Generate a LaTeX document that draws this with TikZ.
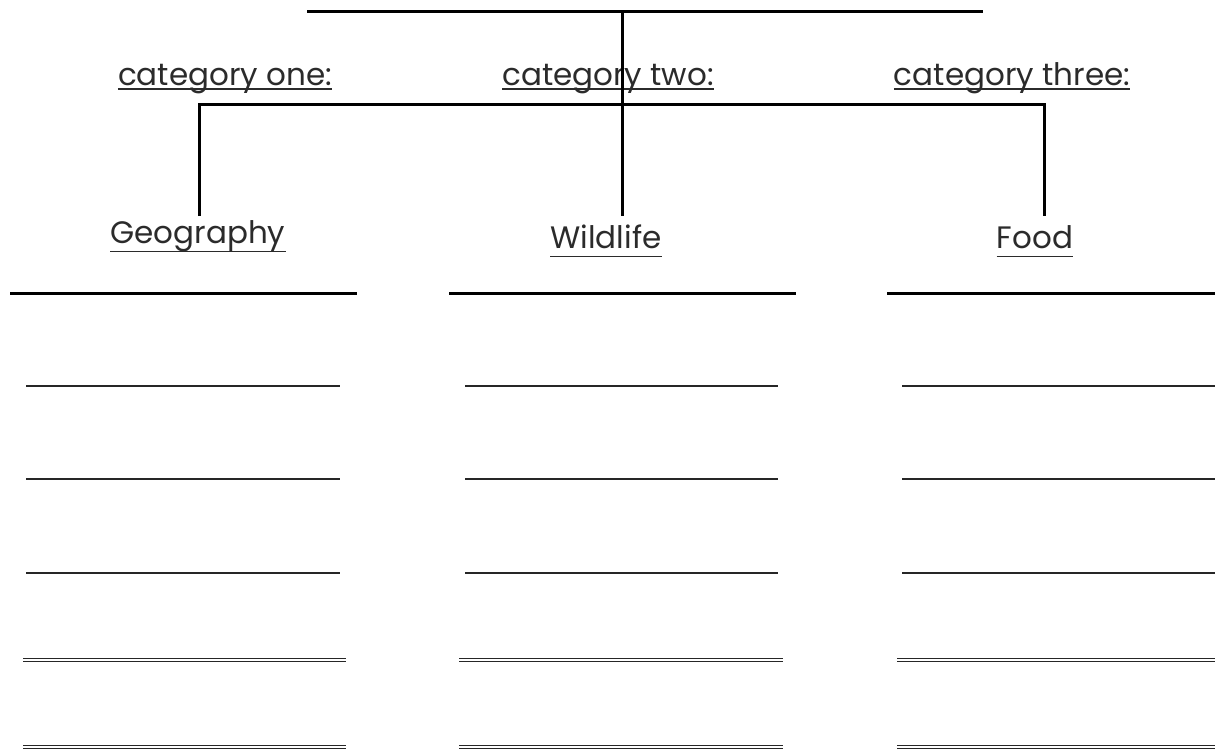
\documentclass[tikz,border=0pt]{standalone}
\usepackage{fontspec}
\setmainfont{Poppins}
\definecolor{txt}{HTML}{2B2B2B}
\begin{document}
\begin{tikzpicture}[x=1pt,y=-1pt,
  conn/.style={line width=3pt, black},
  thickblank/.style={line width=3pt, black},
  blank/.style={line width=1.8pt, black!85},
  dblank/.style={line width=1pt, black!85},
  lbl/.style={inner sep=0pt, anchor=base, text=txt, font=\fontsize{31}{36}\selectfont},
  ul/.style={line width=1.4pt, txt}]
\useasboundingbox (0,0) rectangle (1215,750);
% top line
\coordinate (tl) at (307,11);
\coordinate (tr) at (983,11);
\coordinate (tm) at (622,11);
\draw[conn] (tl) -- (tr);
% category labels
\node[lbl] (c1) at (225,85) {category one:};
\node[lbl] (c2) at (608,85) {category two:};
\node[lbl] (c3) at (1012,85) {category three:};
\foreach \n in {c1,c2,c3}
  \draw[ul] ([yshift=-4pt]\n.base west) -- ([yshift=-4pt]\n.base east);
% leaf labels
\node[lbl] (g) at (198,243) {Geography};
\node[lbl] (w) at (606,248) {Wildlife};
\node[lbl] (f) at (1035,248) {Food};
\foreach \n in {g,w,f}
  \draw[ul] ([yshift=-8.5pt]\n.base west) -- ([yshift=-8.5pt]\n.base east);
% connectors
\coordinate (gt) at (199,216);
\coordinate (wt) at (622,216);
\coordinate (ft) at (1044,216);
\draw[conn] (tm) -- (wt);
\draw[conn] (gt) |- (622,104) -| (ft);
% blank lines
\draw[thickblank] (10,293) -- (357,293);
\draw[thickblank] (449,293) -- (796,293);
\draw[thickblank] (887,293) -- (1215,293);
\foreach \y in {386,479,573} {
  \draw[blank] (26,\y) -- (340,\y);
  \draw[blank] (465,\y) -- (778,\y);
  \draw[blank] (902,\y) -- (1215,\y);
}
\foreach \y in {660,747} {
  \foreach \d in {-1.5,1.5} {
    \draw[dblank] (23,\y+\d) -- (346,\y+\d);
    \draw[dblank] (459,\y+\d) -- (783,\y+\d);
    \draw[dblank] (897,\y+\d) -- (1215,\y+\d);
  }
}
\end{tikzpicture}
\end{document}
